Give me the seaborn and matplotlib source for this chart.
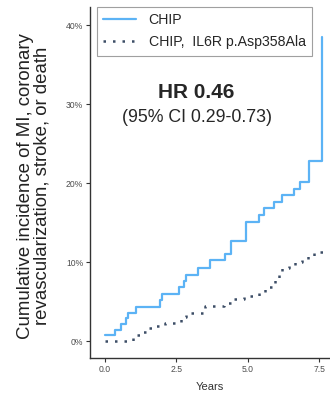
import matplotlib
matplotlib.use("Agg")
import matplotlib.pyplot as plt
import seaborn as sns
import pandas as pd
from matplotlib.ticker import FuncFormatter

# Data
chip_years = [0.0, 0.35, 0.55, 0.75, 0.82, 1.1, 1.93, 2.0, 2.6, 2.75, 2.82, 3.25, 3.68, 4.2, 4.4, 4.95,
              5.4, 5.58, 5.9, 6.18, 6.62, 6.82, 7.12, 7.58]
chip_inc = [0.7, 1.4, 2.1, 2.9, 3.6, 4.35, 5.2, 6.0, 6.9, 7.6, 8.4, 9.3, 10.2, 11.0, 12.7, 15.1,
            15.9, 16.8, 17.6, 18.5, 19.2, 20.1, 22.8, 38.5]
il6r_years = [0.0, 1.0, 1.25, 1.5, 1.75, 2.1, 2.65, 2.85, 3.5, 4.15, 4.4, 4.85, 5.4, 5.6, 5.95,
              6.1, 6.2, 6.45, 6.65, 6.9, 7.1, 7.3, 7.62]
il6r_inc = [0.0, 0.7, 1.2, 1.6, 1.9, 2.3, 3.1, 3.6, 4.4, 4.8, 5.3, 5.7, 6.1, 6.8, 7.8,
            8.4, 9.2, 9.6, 10.0, 10.4, 10.8, 11.3, 11.3]
x_ticks = [0.0, 2.5, 5.0, 7.5]
y_ticks = [0, 10, 20, 30, 40]
series_names = ["CHIP", "CHIP,  IL6R p.Asp358Ala"]

sns.set_theme(style="white")
plt.rcParams['font.family'] = ['Liberation Sans', 'DejaVu Sans']

fig = plt.figure(figsize=(3.3, 3.94), dpi=100)
ax = fig.add_axes([90/330, 36/394, 240/330, (358-7)/394])

df1 = pd.DataFrame({"Years": chip_years, "inc": chip_inc})
df2 = pd.DataFrame({"Years": il6r_years, "inc": il6r_inc})

sns.lineplot(data=df1, x="Years", y="inc", ax=ax, drawstyle="steps-post", estimator=None,
             color="#5cb3f5", linewidth=1.6, label=series_names[0])
sns.lineplot(data=df2, x="Years", y="inc", ax=ax, drawstyle="steps-post", estimator=None,
             color="#3c4d66", linewidth=1.8, linestyle=(0, (1, 2.8)), label=series_names[1])

ax.set_xlim(-0.52, 7.87)
ax.set_ylim(-2.15, 42.3)
ax.set_xticks(x_ticks)
ax.set_xticklabels([f"{v:.1f}" for v in x_ticks])
ax.set_yticks(y_ticks)
ax.yaxis.set_major_formatter(FuncFormatter(lambda v, p: f"{v:.0f}%"))
ax.tick_params(axis="both", labelsize=6.2, labelcolor="#4d4d4d", length=3, width=0.8,
               color="#333333", direction="out", pad=2, bottom=True, left=True, top=False, right=False)
for s in ["top", "right"]:
    ax.spines[s].set_visible(False)
for s in ["left", "bottom"]:
    ax.spines[s].set_color("#333333")
    ax.spines[s].set_linewidth(1.0)
ax.grid(False)

ax.set_xlabel("Years", fontsize=8, color="#333333", labelpad=6)
ax.set_ylabel("")
fig.text(34/330, 1 - 186/394, "Cumulative incidence of MI, coronary\nrevascularization, stroke, or death",
         rotation=90, ha="center", va="center", multialignment="center", fontsize=13.4,
         color="#222222", linespacing=1.0)

leg = ax.legend(loc="upper left", bbox_to_anchor=(97/330, 1 - 7/394), bbox_transform=fig.transFigure,
                fontsize=10.2, frameon=True, fancybox=False, edgecolor="#888888", handlelength=2.3,
                borderpad=0.45, labelspacing=0.55, handletextpad=0.9, borderaxespad=0)
leg.get_frame().set_linewidth(0.8)

fig.text(196/330, 1 - 93/394, "HR 0.46", fontsize=15, fontweight="bold", ha="center", va="center")
fig.text(197/330, 1 - 118/394, "(95% CI 0.29-0.73)", fontsize=12.8, ha="center", va="center")

fig.savefig("out.png", dpi=100)
